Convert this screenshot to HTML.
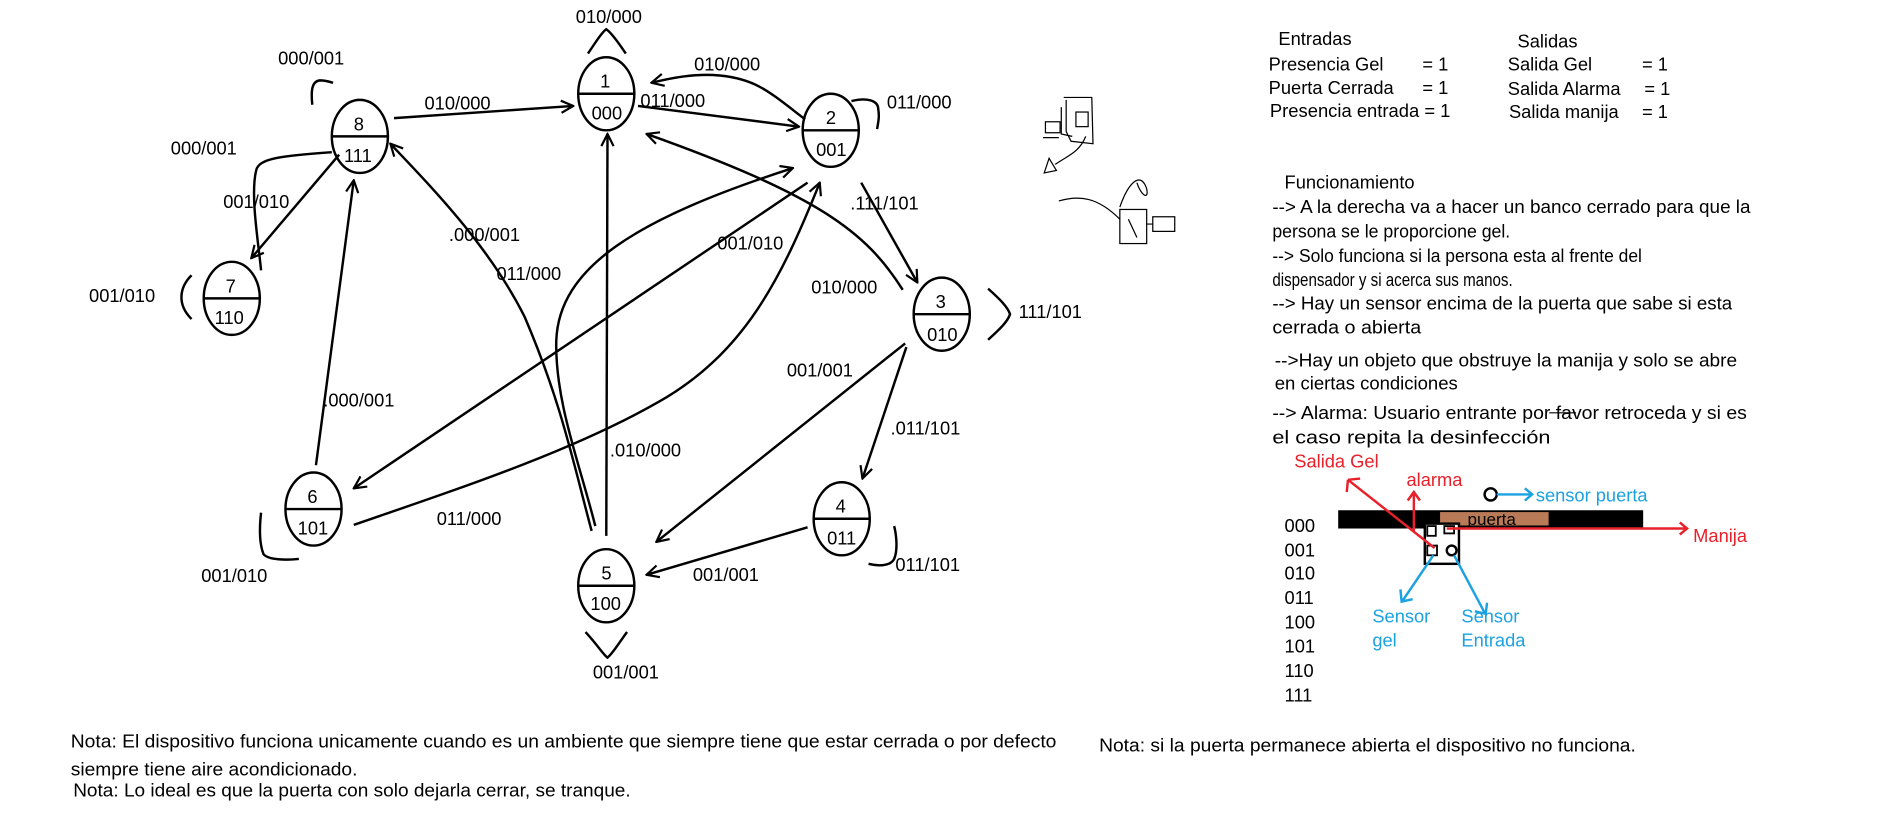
<!DOCTYPE html>
<html><head><meta charset="utf-8"><style>
html,body{margin:0;padding:0;background:#fff;width:1903px;height:822px;overflow:hidden}
svg{display:block}
text{font-family:"Liberation Sans",sans-serif;font-size:15px;fill:#000}
.n{font-size:15px}
.r{fill:#e8202a}.b{fill:#1ca2e0}
</style></head><body>
<svg width="1903" height="822" viewBox="0 0 1560 675" preserveAspectRatio="none" xmlns="http://www.w3.org/2000/svg">
<defs><marker id="a" viewBox="0 0 12 12" refX="11" refY="6" markerWidth="12" markerHeight="12" markerUnits="userSpaceOnUse" orient="auto"><path d="M1,1 L11,6 L1,11" fill="none" stroke="#000" stroke-width="1.8"/></marker></defs>
<g fill="none" stroke="#000" stroke-width="2">
<ellipse cx="497" cy="77" rx="23" ry="30"/><line x1="474" y1="77" x2="520" y2="77"/>
<ellipse cx="681" cy="107" rx="23" ry="30"/><line x1="658" y1="107" x2="704" y2="107"/>
<ellipse cx="772" cy="258" rx="23" ry="30"/><line x1="749" y1="258" x2="795" y2="258"/>
<ellipse cx="690" cy="426" rx="23" ry="30"/><line x1="667" y1="426" x2="713" y2="426"/>
<ellipse cx="497" cy="481" rx="23" ry="30"/><line x1="474" y1="481" x2="520" y2="481"/>
<ellipse cx="257" cy="418" rx="23" ry="30"/><line x1="234" y1="418" x2="280" y2="418"/>
<ellipse cx="190" cy="245" rx="23" ry="30"/><line x1="167" y1="245" x2="213" y2="245"/>
<ellipse cx="295" cy="112" rx="23" ry="30"/><line x1="272" y1="112" x2="318" y2="112"/>
<path d="M323,97 L470,87" marker-end="url(#a)"/>
<path d="M523,87 L655,104" marker-end="url(#a)"/>
<path d="M660,98 C630,75 620,65 590,62 C570,60 550,64 534,68" marker-end="url(#a)"/>
<path d="M740,238 C710,190 670,160 530,110" marker-end="url(#a)"/>
<path d="M706,150 L752,232" marker-end="url(#a)"/>
<path d="M278,127 L206,212" marker-end="url(#a)"/>
<path d="M272,125 C230,128 212,130 210,140 C205,160 212,200 214,222"/>
<path d="M485,436 C470,380 460,330 430,260 C400,200 350,150 320,118" marker-end="url(#a)"/>
<path d="M259,382 L290,148" marker-end="url(#a)"/>
<path d="M497,440 L498,110" marker-end="url(#a)"/>
<path d="M488,432 C475,380 455,330 456,280 C458,220 520,180 650,138" marker-end="url(#a)"/>
<path d="M662,150 L290,401" marker-end="url(#a)"/>
<path d="M290,431 C380,400 470,370 540,330 C610,290 640,230 672,150" marker-end="url(#a)"/>
<path d="M742,282 L538,445" marker-end="url(#a)"/>
<path d="M743,285 L707,393" marker-end="url(#a)"/>
<path d="M662,433 L530,472" marker-end="url(#a)"/>
<path d="M482,44 C490,32 494,26 497,24 C500,26 505,32 513,44"/>
<path d="M256,86 C255,76 255,67 262,66 C266,66 270,67 273,68"/>
<path d="M157,226 C147,236 145,250 157,262"/>
<path d="M214,421 C213,430 212,445 216,455 C220,460 235,460 245,459"/>
<path d="M810,237 C820,246 826,252 828,258 C826,264 820,270 810,279"/>
<path d="M712,463 C720,465 730,465 733,459 C736,452 735,440 733,432"/>
<path d="M480,519 C490,530 495,538 498,540 C502,537 506,530 514,519"/>
<path d="M698,83 C710,80 720,82 720,90 C721,96 720,100 719,106"/>
</g>
<g class="n">
<text x="492" y="72">1</text><text x="485" y="98">000</text>
<text x="677" y="102">2</text><text x="669" y="128">001</text>
<text x="767" y="253">3</text><text x="760" y="280">010</text>
<text x="685" y="421">4</text><text x="678" y="447">011</text>
<text x="493" y="476">5</text><text x="484" y="501">100</text>
<text x="252" y="413">6</text><text x="244" y="439">101</text>
<text x="185" y="240">7</text><text x="176" y="266">110</text>
<text x="290" y="107">8</text><text x="282" y="133">111</text>
</g>
<g>
<text x="472" y="19">010/000</text>
<text x="228" y="53">000/001</text>
<text x="348" y="90">010/000</text>
<text x="569" y="58">010/000</text>
<text x="525" y="88">011/000</text>
<text x="727" y="89">011/000</text>
<text x="140" y="127">000/001</text>
<text x="183" y="171">001/010</text>
<text x="697" y="172">.111/101</text>
<text x="368" y="198">.000/001</text>
<text x="588" y="205">001/010</text>
<text x="407" y="230">011/000</text>
<text x="665" y="241">010/000</text>
<text x="73" y="248">001/010</text>
<text x="835" y="261">111/101</text>
<text x="645" y="309">001/001</text>
<text x="265" y="334">.000/001</text>
<text x="730" y="357">.011/101</text>
<text x="500" y="375">.010/000</text>
<text x="358" y="431">011/000</text>
<text x="734" y="469">011/101</text>
<text x="568" y="477">001/001</text>
<text x="165" y="478">001/010</text>
<text x="486" y="557">001/001</text>
</g>
<g fill="none" stroke="#000" stroke-width="1">
<rect x="857" y="100" width="12" height="9"/><path d="M855,113 L868,113 M870,88 L870,110 L879,112 M872,80 L895,80 L896,118 L878,116 L874,108 L874,82"/>
<rect x="882" y="92" width="10" height="12"/><path d="M890,112 C885,125 875,128 865,135 M860,130 L856,142 L866,140 Z"/>
<path d="M868,165 C885,160 900,162 918,180 M918,170 C925,150 935,140 940,155 C942,165 935,160 932,150"/>
<rect x="918" y="172" width="22" height="28"/><rect x="945" y="178" width="18" height="12"/><path d="M925,180 L932,195 M940,184 L945,184"/>
</g>
<g class="n">
<text x="1048" y="37">Entradas</text>
<text x="1040" y="58">Presencia Gel</text><text x="1166" y="58">= 1</text>
<text x="1040" y="77">Puerta Cerrada</text><text x="1166" y="77">= 1</text>
<text x="1041" y="96" textLength="148" lengthAdjust="spacingAndGlyphs">Presencia entrada = 1</text>
<text x="1244" y="39">Salidas</text>
<text x="1236" y="58">Salida Gel</text><text x="1346" y="58">= 1</text>
<text x="1236" y="78">Salida Alarma</text><text x="1348" y="78">= 1</text>
<text x="1237" y="97">Salida manija</text><text x="1346" y="97">= 1</text>
<text x="1053" y="155">Funcionamiento</text>
<text x="1043" y="175" textLength="392" lengthAdjust="spacingAndGlyphs">--&gt; A la derecha va a hacer un banco cerrado para que la</text>
<text x="1043" y="195" textLength="195" lengthAdjust="spacingAndGlyphs">persona se le proporcione gel.</text>
<text x="1043" y="215" textLength="303" lengthAdjust="spacingAndGlyphs">--&gt; Solo funciona si la persona esta al frente del</text>
<text x="1043" y="235" textLength="197" lengthAdjust="spacingAndGlyphs">dispensador y si acerca sus manos.</text>
<text x="1043" y="254" textLength="377" lengthAdjust="spacingAndGlyphs">--&gt; Hay un sensor encima de la puerta que sabe si esta</text>
<text x="1043" y="274" textLength="122" lengthAdjust="spacingAndGlyphs">cerrada o abierta</text>
<text x="1045" y="301" textLength="379" lengthAdjust="spacingAndGlyphs">--&gt;Hay un objeto que obstruye la manija y solo se abre</text>
<text x="1045" y="320" textLength="150" lengthAdjust="spacingAndGlyphs">en ciertas condiciones</text>
<text x="1043" y="344" textLength="389" lengthAdjust="spacingAndGlyphs">--&gt; Alarma: Usuario entrante por favor retroceda y si es</text>
<text x="1043" y="364" textLength="228" lengthAdjust="spacingAndGlyphs">el caso repita la desinfección</text>
<text x="1053" y="437">000</text><text x="1053" y="457">001</text><text x="1053" y="476">010</text><text x="1053" y="496">011</text>
<text x="1053" y="516">100</text><text x="1053" y="536">101</text><text x="1053" y="556">110</text><text x="1053" y="576">111</text>
<text class="r" x="1061" y="384">Salida Gel</text>
<text class="r" x="1153" y="399">alarma</text>
<text class="b" x="1259" y="412">sensor puerta</text>
<text class="r" x="1388" y="445">Manija</text>
<text class="b" x="1125" y="511">Sensor</text><text class="b" x="1125" y="531">gel</text>
<text class="b" x="1198" y="511">Sensor</text><text class="b" x="1198" y="531">Entrada</text>
</g>
<line x1="1270" y1="339" x2="1292" y2="339" stroke="#000" stroke-width="1"/>
<rect x="1097" y="419" width="250" height="15" fill="#000"/>
<rect x="1180" y="420" width="90" height="12" fill="#b97a57" stroke="#000"/>
<text x="1203" y="431" style="font-size:14px">puerta</text>
<rect x="1168" y="430" width="28" height="33" fill="#fff" stroke="#000" stroke-width="2"/>
<rect x="1170" y="432" width="7" height="8" fill="none" stroke="#000" stroke-width="1.5"/>
<rect x="1184" y="432" width="8" height="6" fill="none" stroke="#000" stroke-width="1.5"/>
<rect x="1170" y="448" width="8" height="8" fill="none" stroke="#000" stroke-width="1.5"/>
<circle cx="1190" cy="452" r="4" fill="none" stroke="#000" stroke-width="2"/>
<circle cx="1222" cy="406" r="5" fill="none" stroke="#000" stroke-width="2"/>
<g fill="none" stroke="#e8202a" stroke-width="2">
<path d="M1176,450 L1105,394 M1105,394 L1104,404 M1105,394 L1115,393"/>
<path d="M1159,436 L1159,406 M1154,411 L1159,404 L1164,411"/>
<path d="M1186,434 L1382,434 M1377,429 L1383,434 L1377,439"/>
</g>
<g fill="none" stroke="#1ca2e0" stroke-width="2">
<path d="M1227,406 L1255,406 M1250,401 L1256,406 L1250,411"/>
<path d="M1175,456 L1150,493 M1148,484 L1149,494 L1158,492"/>
<path d="M1192,456 L1217,503 M1209,502 L1218,504 L1219,495"/>
</g>
<g class="n">
<text x="58" y="614" textLength="808" lengthAdjust="spacingAndGlyphs">Nota: El dispositivo funciona unicamente cuando es un ambiente que siempre tiene que estar cerrada o por defecto</text>
<text x="58" y="637" textLength="235" lengthAdjust="spacingAndGlyphs">siempre tiene aire acondicionado.</text>
<text x="60" y="654" textLength="457" lengthAdjust="spacingAndGlyphs">Nota: Lo ideal es que la puerta con solo dejarla cerrar, se tranque.</text>
<text x="901" y="617" textLength="440" lengthAdjust="spacingAndGlyphs">Nota: si la puerta permanece abierta el dispositivo no funciona.</text>
</g>
</svg>
</body></html>
